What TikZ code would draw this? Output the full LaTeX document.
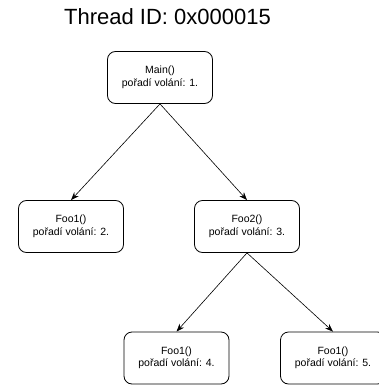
\documentclass[tikz,border=0pt]{standalone}
\usepackage{fontspec}
\setmainfont{Liberation Sans}
\usetikzlibrary{arrows.meta}

\begin{document}
\begin{tikzpicture}[x=1pt, y=-1pt,
		call/.style={draw, rounded corners=8pt, minimum width=105pt, minimum height=52pt,
			align=center, line width=0.8pt, font=\fontsize{10.5}{12.5}\selectfont},
		edge/.style={-{Stealth[length=8pt, width=6pt]}, line width=0.6pt}]
		\useasboundingbox (0,0) rectangle (379,385);
		\clip (0,0) rectangle (379,385);
		\node (title) at (167.5,17) {\fontsize{22}{26}\selectfont Thread ID: 0x000015};
		\node[call] (main)  at (160,77.5)  {Main()\\ pořadí volání: 1.};
		\node[call] (foo1a) at (71,226.5)  {Foo1()\\ pořadí volání: 2.};
		\node[call] (foo2)  at (247,226.5) {Foo2()\\ pořadí volání: 3.};
		\node[call] (foo1b) at (176.5,358) {Foo1()\\ pořadí volání: 4.};
		\node[call] (foo1c) at (333,358)   {Foo1()\\ pořadí volání: 5.};
		\draw[edge] (main.south) -- (foo1a.north);
		\draw[edge] (main.south) -- (foo2.north);
		\draw[edge] (foo2.south) -- (foo1b.north);
		\draw[edge] (foo2.south) -- (foo1c.north);
	\end{tikzpicture}
\end{document}
